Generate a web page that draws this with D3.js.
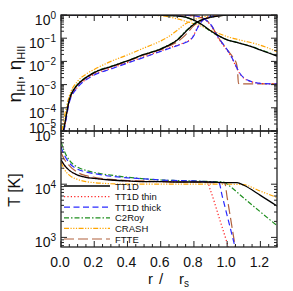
<!DOCTYPE html>
<html><head><meta charset="utf-8">
<script src="https://cdn.jsdelivr.net/npm/d3@7"></script>
<style>
html,body{margin:0;padding:0;background:#fff;}
svg{display:block;font-family:"Liberation Sans",Arial,sans-serif;}
</style></head>
<body>
<svg id="chart" width="293" height="291"></svg>
<script>
// ---------- DATA ----------
const seriesNames = ["TT1D", "TT1D thin", "TT1D thick", "C2Roy", "CRASH", "FTTE"];
const seriesColors = ["#000000", "#ff2020", "#2a2aff", "#1f8f1f", "#ffa500", "#b0603c"];

const xTicks = [0.0, 0.2, 0.4, 0.6, 0.8, 1.0, 1.2];
const topYTicks = [0, -1, -2, -3, -4, -5];      // exponents of 10
const botYTicks = [5, 4, 3];                     // exponents of 10

// neutral fraction eta_HI
const rHI = [0.005,0.02,0.05,0.1,0.15,0.2,0.3,0.4,0.5,0.6,0.65,0.7,0.75,0.8,0.85,0.9,0.95,1.0,1.1,1.2,1.3];
const tt1dHI  = [5e-6,1.6e-5,2.2e-4,1.0e-3,2.0e-3,3.3e-3,6.0e-3,1.05e-2,2.0e-2,3.4e-2,5.0e-2,8.3e-2,0.19,0.40,0.63,0.79,0.91,0.98,1,1,1];
const c2royHI = [5e-6,1.7e-5,2.3e-4,1.05e-3,2.05e-3,3.4e-3,6.1e-3,1.07e-2,2.0e-2,3.5e-2,5.2e-2,8.8e-2,0.20,0.42,0.64,0.80,0.92,0.98,1,1,1];
const ftteHI  = [5e-6,1.5e-5,2.1e-4,9.5e-4,1.9e-3,3.2e-3,5.8e-3,1.0e-2,1.9e-2,3.2e-2,4.6e-2,7.0e-2,0.14,0.35,0.60,0.80,0.92,0.98,1,1,1];
const crashHI = [1e-5,4e-5,3.2e-4,1.4e-3,2.8e-3,4.5e-3,1.0e-2,1.9e-2,3.8e-2,7.6e-2,0.12,0.22,0.42,0.63,0.81,0.91,0.97,1,1,1,1];
const rHI2 = [0.005,0.02,0.05,0.1,0.15,0.2,0.3,0.4,0.5,0.6,0.65,0.7,0.75,0.78,0.8,0.82,0.84,0.86,0.9,0.95,1.0,1.1,1.3];
const thinHI  = [4e-6,1.3e-5,1.8e-4,7.9e-4,1.66e-3,2.75e-3,5.0e-3,8.9e-3,1.58e-2,2.8e-2,3.8e-2,5.0e-2,6.8e-2,8.9e-2,0.14,0.28,0.48,0.66,0.85,0.95,1,1,1];
const thickHI = [4e-6,1.2e-5,1.7e-4,7.5e-4,1.6e-3,2.6e-3,4.7e-3,8.5e-3,1.5e-2,2.7e-2,3.6e-2,4.8e-2,6.5e-2,8.5e-2,0.13,0.26,0.46,0.65,0.85,0.95,1,1,1];

// ionised fraction eta_HII
const rHII = [0,0.3,0.5,0.6,0.65,0.7,0.75,0.8,0.85,0.9,0.95,1.0,1.05,1.1,1.15,1.2,1.25,1.3];
const tt1dHII  = [1,0.99,0.98,0.966,0.95,0.91,0.81,0.60,0.38,0.21,0.126,0.085,0.068,0.054,0.042,0.031,0.023,0.017];
const c2royHII = [1,0.99,0.98,0.965,0.948,0.91,0.80,0.58,0.36,0.20,0.125,0.086,0.069,0.055,0.043,0.032,0.024,0.0175];
const crashHII = [1,0.99,0.975,0.93,0.83,0.68,0.54,0.42,0.32,0.22,0.16,0.117,0.093,0.076,0.063,0.05,0.037,0.026];
const rHII2 = [0,0.5,0.7,0.8,0.84,0.87,0.9,0.92,0.94,0.97,1.0,1.02,1.04,1.06,1.08,1.1,1.13,1.16,1.2,1.3];
const thickHII = [1,0.995,0.99,0.93,0.81,0.63,0.40,0.24,0.13,0.063,0.032,0.019,0.010,0.005,0.0028,0.0020,0.00148,0.00126,0.00112,0.00107];
const thinHII  = [1,0.995,0.99,0.92,0.78,0.60,0.37,0.22,0.12,0.058,0.030,0.018,0.0095,0.0048,0.0027,0.0019,0.00145,0.00125,0.00112,0.00107];
const rF = [0,0.5,0.7,0.8,0.84,0.87,0.9,0.92,0.94,0.97,1.0,1.02,1.04,1.055,1.062,1.068,1.1,1.3];
const ftteHII = [1,0.995,0.99,0.93,0.80,0.62,0.39,0.235,0.13,0.062,0.032,0.021,0.013,0.0085,0.0045,0.00112,0.00107,0.00107];

// temperature [K]
const rT_tt1d = [0,0.02,0.05,0.1,0.15,0.2,0.3,0.4,0.5,0.6,0.7,0.8,0.9,1.0,1.06,1.1,1.2,1.3];
const T_tt1d  = [28800,22900,18200,14800,13500,12900,12000,11500,11200,11200,11000,11000,11000,10700,10700,9550,6170,3890];
const rT_thin = [0,0.02,0.05,0.1,0.15,0.2,0.3,0.4,0.5,0.6,0.7,0.8,0.88,0.9,0.95,1.0,1.02];
const T_thin  = [28800,22900,18200,14800,13500,12900,12000,11500,11200,11200,11000,11000,11000,7600,2450,780,490];
const rT_thick = [0,0.02,0.05,0.1,0.15,0.2,0.3,0.4,0.5,0.6,0.7,0.8,0.9,0.95,0.97,1.0,1.05,1.07];
const T_thick  = [50100,35500,25100,19100,17000,15800,14100,13200,12600,12000,11700,11500,11000,10700,6030,2570,617,355];
const rT_c2roy = [0,0.02,0.05,0.1,0.15,0.2,0.3,0.4,0.5,0.6,0.7,0.8,0.9,0.98,1.0,1.1,1.2,1.3];
const T_c2roy  = [63100,41700,28200,20900,18200,16600,14800,13500,12600,12000,11700,11500,11200,11000,10000,5500,3020,1660];
const rT_crash = [0,0.02,0.05,0.1,0.15,0.2,0.3,0.4,0.5,0.6,0.8,1.0,1.1,1.15,1.2,1.25,1.3];
const T_crash  = [26300,19100,14800,12300,11200,10700,10200,10000,10000,10000,10000,10000,9800,8700,7400,6460,5620];
const rT_ftte = [0,0.02,0.05,0.1,0.15,0.2,0.3,0.4,0.5,0.6,0.7,0.8,0.9,0.985,1.0,1.02,1.05,1.07];
const T_ftte  = [38900,29500,22400,16600,14500,13500,12300,11700,11500,11200,11000,11000,10700,10700,5620,2340,630,280];

// ---------- LAYOUT ----------
const L = 61, R = 277, T1 = 15, B1 = 131, B2 = 247;
const dashes = [null, "1.2,2.2", "6,3.5", "5,2,1.5,2", "5,1.5,1.2,1.5,1.2,1.5,1.2,1.5", "10,4"];

const svg = d3.select("#chart");
const x = d3.scaleLinear().domain([0, 1.3]).range([L, R]);
const yTop = d3.scaleLog().domain([1e-5, 1]).range([B1, T1]);
const yBot = d3.scaleLog().domain([660, 1e5]).range([B2, B1]);

const defs = svg.append("defs");
defs.append("clipPath").attr("id","clipTop").append("rect").attr("x",L).attr("y",T1).attr("width",R-L).attr("height",B1-T1);
defs.append("clipPath").attr("id","clipBot").append("rect").attr("x",L).attr("y",B1).attr("width",R-L).attr("height",B2-B1);

function drawLine(g, rs, vs, y, idx){
  const pts = rs.map((r,i)=>[r, vs[i]]);
  const line = d3.line().x(d=>x(d[0])).y(d=>y(d[1])).curve(d3.curveMonotoneX);
  const p = g.append("path").datum(pts).attr("d", line)
    .attr("fill","none").attr("stroke", seriesColors[idx])
    .attr("stroke-width", idx===0 ? 1.3 : 1.2);
  if (dashes[idx]) p.attr("stroke-dasharray", dashes[idx]);
}

// top panel lines
const gTop = svg.append("g").attr("clip-path","url(#clipTop)");
drawLine(gTop, rHI, crashHI, yTop, 4);
drawLine(gTop, rHII, crashHII, yTop, 4);
drawLine(gTop, rHI, c2royHI, yTop, 3);
drawLine(gTop, rHII, c2royHII, yTop, 3);
drawLine(gTop, rHI, ftteHI, yTop, 5);
drawLine(gTop, rF, ftteHII, yTop, 5);
drawLine(gTop, rHI2, thinHI, yTop, 1);
drawLine(gTop, rHII2, thinHII, yTop, 1);
drawLine(gTop, rHI2, thickHI, yTop, 2);
drawLine(gTop, rHII2, thickHII, yTop, 2);
drawLine(gTop, rHI, tt1dHI, yTop, 0);
drawLine(gTop, rHII, tt1dHII, yTop, 0);

// bottom panel lines
const gBot = svg.append("g").attr("clip-path","url(#clipBot)");
drawLine(gBot, rT_crash, T_crash, yBot, 4);
drawLine(gBot, rT_c2roy, T_c2roy, yBot, 3);
drawLine(gBot, rT_ftte, T_ftte, yBot, 5);
drawLine(gBot, rT_thin, T_thin, yBot, 1);
drawLine(gBot, rT_thick, T_thick, yBot, 2);
drawLine(gBot, rT_tt1d, T_tt1d, yBot, 0);

// ---------- AXES ----------
const axCol = "#222";
const gAx = svg.append("g").attr("stroke", axCol).attr("stroke-width", 1);
function xTicksAt(yEdge, dir){ // dir: -1 up, +1 down
  for (let i=0;i<=26;i++){
    const v = i*0.05;
    const major = (i % 4 === 0);
    const len = major ? 6 : 3;
    gAx.append("line").attr("x1",x(v)).attr("x2",x(v)).attr("y1",yEdge).attr("y2",yEdge+dir*len);
  }
}
xTicksAt(T1, 1); xTicksAt(B1, -1); xTicksAt(B1, 1); xTicksAt(B2, -1);

function yLogTicks(scale, lo, hi){
  const [d0, d1] = scale.domain();
  for (let e=lo; e<=hi; e++){
    for (let m=1; m<=9; m++){
      const v = m*Math.pow(10,e);
      if (v < d0*0.999 || v > d1*1.001) continue;
      const len = (m===1) ? 6 : 3;
      const yy = scale(v);
      gAx.append("line").attr("x1",L).attr("x2",L+len).attr("y1",yy).attr("y2",yy);
      gAx.append("line").attr("x1",R).attr("x2",R-len).attr("y1",yy).attr("y2",yy);
    }
  }
}
yLogTicks(yTop, -5, 0);
yLogTicks(yBot, 2, 5);

// frames
svg.append("rect").attr("x",L).attr("y",T1).attr("width",R-L).attr("height",B1-T1)
  .attr("fill","none").attr("stroke",axCol).attr("stroke-width",1.3);
svg.append("rect").attr("x",L).attr("y",B1).attr("width",R-L).attr("height",B2-B1)
  .attr("fill","none").attr("stroke",axCol).attr("stroke-width",1.3);

// tick labels
const gLab = svg.append("g").attr("fill","#111");
function powLabel(yy, e, shift){
  const t = gLab.append("text").attr("x", 56).attr("y", yy+10+shift).attr("text-anchor","end").attr("font-size",14);
  t.append("tspan").text("10");
  t.append("tspan").attr("dy",-6).attr("font-size",10).text(e<0 ? "\u2212"+(-e) : String(e));
}
// the shared-edge labels (10^-5 and 10^5) sit close together, as in the original figure
topYTicks.forEach(e => powLabel(yTop(Math.pow(10,e)), e, e===-5 ? -8 : 0));
botYTicks.forEach(e => powLabel(yBot(Math.pow(10,e)), e, 0));
xTicks.forEach(v => {
  gLab.append("text").attr("x", x(v)-1).attr("y", 267).attr("text-anchor","middle")
    .attr("font-size",14).text(v.toFixed(1));
});

// axis titles
const yt = gLab.append("text").attr("transform","translate(21,74) rotate(-90)")
  .attr("text-anchor","middle").attr("font-size",19);
yt.append("tspan").text("\u03b7");
yt.append("tspan").attr("font-size",11).attr("dy",4).text("HI");
yt.append("tspan").attr("dy",-4).text(",  \u03b7");
yt.append("tspan").attr("font-size",11).attr("dy",4).text("HII");

gLab.append("text").attr("transform","translate(20,190) rotate(-90)")
  .attr("text-anchor","middle").attr("font-size",16).text("T [K]");

const xt = gLab.append("text").attr("y",284).attr("font-size",15);
xt.append("tspan").attr("x",148).text("r");
xt.append("tspan").attr("x",159).text("/");
xt.append("tspan").attr("x",179).text("r");
xt.append("tspan").attr("font-size",10).attr("dy",3).text("s");

// ---------- LEGEND ----------
const legY0 = 186, legDY = 10.6;
const gLeg = svg.append("g");
seriesNames.forEach((name, i) => {
  const yy = legY0 + i*legDY;
  const ln = gLeg.append("line").attr("x1",64).attr("x2",110).attr("y1",yy).attr("y2",yy)
    .attr("stroke", seriesColors[i]).attr("stroke-width", i===0?1.3:1.2);
  if (dashes[i]) ln.attr("stroke-dasharray", dashes[i]);
  gLeg.append("text").attr("x",115).attr("y",yy+3.5).attr("font-size",9.5).attr("fill","#111").text(name);
});
</script>
</body></html>
